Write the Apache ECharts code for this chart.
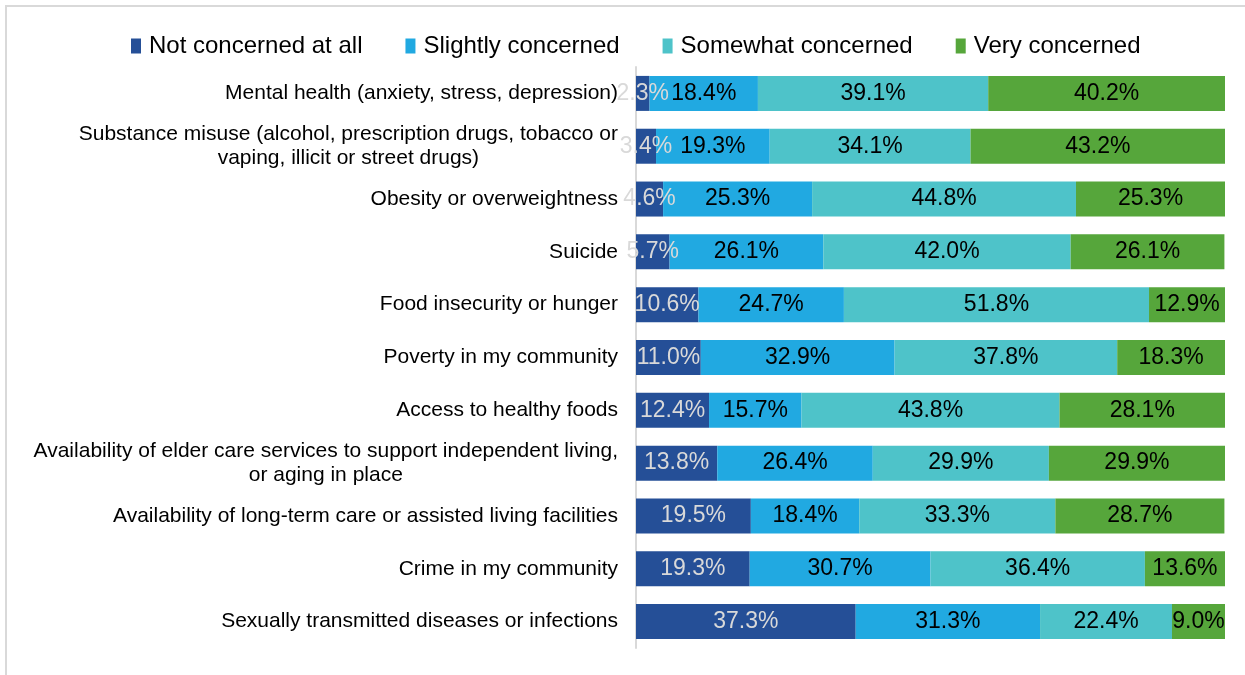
<!DOCTYPE html>
<html><head><meta charset="utf-8">
<script src="https://cdn.jsdelivr.net/npm/echarts@6/dist/echarts.min.js"></script>
<style>
html,body{margin:0;padding:0;background:#fff;}
#c{position:absolute;left:0;top:0;width:1245px;height:675px;}
#frame{position:absolute;left:5px;top:5px;width:1300px;height:700px;border-left:2px solid #d9d9d9;border-top:2px solid #d9d9d9;pointer-events:none;}
</style></head>
<body>
<div id="c"></div><div id="frame"></div>
<script>
const categories = [
  'Mental health (anxiety, stress, depression)',
  'Substance misuse (alcohol, prescription drugs, tobacco or\nvaping, illicit or street drugs)',
  'Obesity or overweightness',
  'Suicide',
  'Food insecurity or hunger',
  'Poverty in my community',
  'Access to healthy foods',
  'Availability of elder care services to support independent living,\nor aging in place',
  'Availability of long-term care or assisted living facilities',
  'Crime in my community',
  'Sexually transmitted diseases or infections'
];
const seriesNames = ['Not concerned at all','Slightly concerned','Somewhat concerned','Very concerned'];
const notConcerned = [2.3, 3.4, 4.6, 5.7, 10.6, 11.0, 12.4, 13.8, 19.5, 19.3, 37.3];
const slightly     = [18.4, 19.3, 25.3, 26.1, 24.7, 32.9, 15.7, 26.4, 18.4, 30.7, 31.3];
const somewhat     = [39.1, 34.1, 44.8, 42.0, 51.8, 37.8, 43.8, 29.9, 33.3, 36.4, 22.4];
const very         = [40.2, 43.2, 25.3, 26.1, 12.9, 18.3, 28.1, 29.9, 28.7, 13.6, 9.0];

const colors = ['#254f97', '#21a9e1', '#4ec3c9', '#56a63b'];
const labelColors = ['#d9d9d9', '#000', '#000', '#000'];
const values = [notConcerned, slightly, somewhat, very];
const FF = 'Liberation Sans, Arial, sans-serif';

const chart = echarts.init(document.getElementById('c'));
chart.setOption({
  animation: false,
  textStyle: { fontFamily: FF },
  legend: {
    top: 29, left: 126,
    itemWidth: 10, itemHeight: 15, itemGap: 43,
    icon: 'rect',
    textStyle: { fontSize: 24, color: '#000', fontFamily: FF, padding: [0, 0, 0, 3] },
    data: seriesNames
  },
  grid: { left: 636, right: 20, top: 67, bottom: 27, containLabel: false },
  xAxis: { type: 'value', min: 0, max: 100, show: false },
  yAxis: {
    type: 'category', inverse: true, data: categories,
    axisLine: { show: true, lineStyle: { color: '#d9d9d9', width: 2 } },
    axisTick: { show: false },
    axisLabel: {
      margin: 18, color: '#000', fontSize: 21, lineHeight: 24,
      formatter: function (v) { return v.split('\n').map(s => '{c|' + s + '}').join('\n'); },
      rich: { c: { align: 'center', fontSize: 21, lineHeight: 24, color: '#000', fontFamily: FF } }
    }
  },
  series: seriesNames.map((n, i) => ({
    name: n, type: 'bar', stack: 'total', barWidth: 35,
    itemStyle: { color: colors[i] },
    label: {
      show: true, position: 'inside', color: labelColors[i], fontSize: 23,
      fontFamily: FF,
      formatter: p => p.value.toFixed(1) + '%'
    },
    data: values[i]
  }))
});
</script>
</body></html>
